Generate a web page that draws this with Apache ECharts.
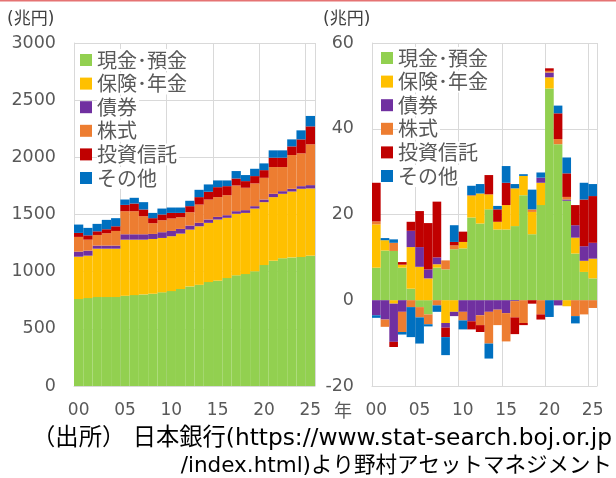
<!DOCTYPE html>
<html>
<head>
<meta charset="utf-8">
<script src="https://cdn.jsdelivr.net/npm/echarts@6/dist/echarts.min.js"></script>
<style>
  html, body { margin: 0; padding: 0; background: #fff; }
  #chart { width: 616px; height: 478px; }
</style>
</head>
<body>
<div id="chart"></div>
<script>
// Years on both category axes (2000 - 2025)
const years = ['00','01','02','03','04','05','06','07','08','09','10','11','12',
               '13','14','15','16','17','18','19','20','21','22','23','24','25'];
const seriesNames = ['現金･預金', '保険･年金', '債券', '株式', '投資信託', 'その他'];

// Left panel: outstanding amount (trillion yen)
const stockCash  = [760,769,778,778,778,789,795,801,807,819,830,848,871,885,909,921,944,968,979,1003,1058,1096,1117,1125,1128,1140];
const stockIns   = [371,371,423,423,423,491,485,479,479,476,480,485,497,512,518,535,527,538,535,549,550,556,564,576,597,588];
const stockBond  = [44,44,27,27,27,47,47,47,44,50,46,41,35,30,29,23,23,23,24,21,23,29,23,24,23,29];
const stockEq    = [129,96,93,108,128,202,202,158,94,105,109,102,117,160,175,173,175,225,196,199,190,234,211,295,287,357];
const stockIT    = [35,38,32,35,41,55,67,59,44,50,49,38,53,65,68,87,79,61,58,64,67,82,82,76,122,157];
const stockOther = [73,65,65,82,71,47,50,64,46,52,47,47,47,64,64,59,50,65,53,64,59,64,64,61,79,91];

// Right panel: yearly flow (trillion yen)
const flowCash  = [7.6,11.6,11.5,7.6,2.7,-1.6,-3.3,7.6,7.2,11.9,12.1,19.3,17.9,21.2,16.5,16.5,17.3,24.5,15.4,22.2,49.4,36.4,23.2,10.9,6.6,5.1];
const flowIns   = [10.1,2.4,-0.8,0.7,9.7,7.8,5.1,0.8,-5.3,-2.7,1.5,5.0,7.0,3.5,1.8,5.7,8.8,4.5,5.2,5.2,2.6,0,-1.4,3.7,2.6,4.6];
const flowBond  = [-3.5,-4.5,-8.9,-2.7,3.8,4.6,2.1,1.6,-1.1,-1.0,-2.7,-4.9,-3.5,-2.7,-2.2,-3.0,-0.2,0,0,1.2,1.1,-1.2,0.3,2.9,3.4,3.7];
const flowEq    = [0.7,-1.7,1.9,-4.7,-1.6,-2.4,-2.3,-1.2,2.1,0.9,-2.0,0.2,-2.3,-7.4,-3.6,-6.6,-3.8,-5.3,0.6,-3.3,0.4,1.2,0.6,-3.7,-3.3,-1.8];
const flowIT    = [9.0,0,-1.2,0.6,2.1,8.4,10.8,13.0,-2.2,0.8,2.4,-1.9,-1.6,4.5,2.9,5.2,-3.9,-0.5,-0.8,-1.2,0.6,6.0,5.5,4.7,10.9,10.9];
const flowOther = [-0.6,0.5,0.8,-0.6,-7.0,-6.1,-0.5,-1.5,-4.2,3.9,-2.1,2.2,2.2,-3.5,0.8,3.9,1.0,0.4,4.6,1.2,-3.9,1.8,3.7,-1.7,3.9,2.8];

// Axis ticks
const leftTicks = { min: 0, max: 3000, interval: 500 };
const rightTicks = { min: -20, max: 60, interval: 20 };

const colors = ['#92D050', '#FFC000', '#7030A0', '#ED7D31', '#C00000', '#0070C0'];
const gridColor = '#D9D9D9';
const labelColor = '#595959';
const numFont = 'DejaVu Sans';
const jpFont = '"DejaVu Sans", "Noto Sans CJK JP"';

const stockData = [stockCash, stockIns, stockBond, stockEq, stockIT, stockOther];
const flowData = [flowCash, flowIns, flowBond, flowEq, flowIT, flowOther];

function makeXAxis(gridIndex) {
    return {
        type: 'category',
        gridIndex: gridIndex,
        data: years,
        boundaryGap: true,
        axisLine: { show: true, onZero: false, lineStyle: { color: gridColor } },
        axisTick: { show: false },
        axisLabel: { interval: 4, color: labelColor, fontSize: 17, fontFamily: numFont, margin: 16 },
        splitLine: { show: true, interval: 4, lineStyle: { color: gridColor } }
    };
}

function makeYAxis(gridIndex, ticks) {
    return {
        type: 'value',
        gridIndex: gridIndex,
        min: ticks.min,
        max: ticks.max,
        interval: ticks.interval,
        axisLine: { show: true, lineStyle: { color: gridColor } },
        axisTick: { show: false },
        axisLabel: { color: labelColor, fontSize: 17.5, fontFamily: numFont, margin: 18,
                     formatter: v => String(v) },
        splitLine: { show: true, lineStyle: { color: gridColor } }
    };
}

function makeLegend(left, top) {
    return {
        orient: 'vertical',
        left: left,
        top: top,
        padding: 0,
        itemGap: 1.6,
        itemWidth: 12,
        itemHeight: 12,
        icon: 'rect',
        data: seriesNames,
        textStyle: {
            color: labelColor, fontSize: 20, lineHeight: 20,
            fontFamily: '"Noto Sans CJK JP"', backgroundColor: '#fff', padding: [1, 2, 1, 0]
        }
    };
}

const series = [];
seriesNames.forEach((name, i) => {
    series.push({
        name: name, type: 'bar', stack: 'stock',
        xAxisIndex: 0, yAxisIndex: 0,
        barCategoryGap: '0%',
        itemStyle: { color: colors[i] },
        data: stockData[i]
    });
});
seriesNames.forEach((name, i) => {
    series.push({
        name: name, type: 'bar', stack: 'flow',
        xAxisIndex: 1, yAxisIndex: 1,
        barCategoryGap: '0%',
        itemStyle: { color: colors[i] },
        data: flowData[i]
    });
});

const chart = echarts.init(document.getElementById('chart'));
chart.setOption({
    animation: false,
    grid: [
        { left: 74, top: 43, width: 241, height: 343 },
        { left: 372, top: 43, width: 225, height: 343 }
    ],
    xAxis: [makeXAxis(0), makeXAxis(1)],
    yAxis: [makeYAxis(0, leftTicks), makeYAxis(1, rightTicks)],
    legend: [makeLegend(80, 49), makeLegend(381, 47)],
    series: series,
    graphic: [
        { type: 'rect', left: 0, top: 0, shape: { width: 616, height: 1.5 }, style: { fill: '#E57373' } },
        { type: 'text', left: 7, top: 11, style: { text: '(兆円)', fontSize: 17, fontFamily: jpFont, fill: '#404040' } },
        { type: 'text', left: 323, top: 11, style: { text: '(兆円)', fontSize: 17, fontFamily: jpFont, fill: '#404040' } },
        { type: 'text', left: 334, top: 401, style: { text: '年', fontSize: 18, fontFamily: '"Noto Sans CJK JP"', fill: labelColor } },
        { type: 'text', right: 4, top: 427, style: { text: '（出所） 日本銀行(https://www.stat-search.boj.or.jp', fontSize: 23.3, fontFamily: jpFont, fill: '#000' } },
        { type: 'text', right: 4, top: 456, style: { text: '/index.html)より野村アセットマネジメント', fontSize: 21.5, fontFamily: jpFont, fill: '#000' } }
    ]
});
</script>
</body>
</html>
